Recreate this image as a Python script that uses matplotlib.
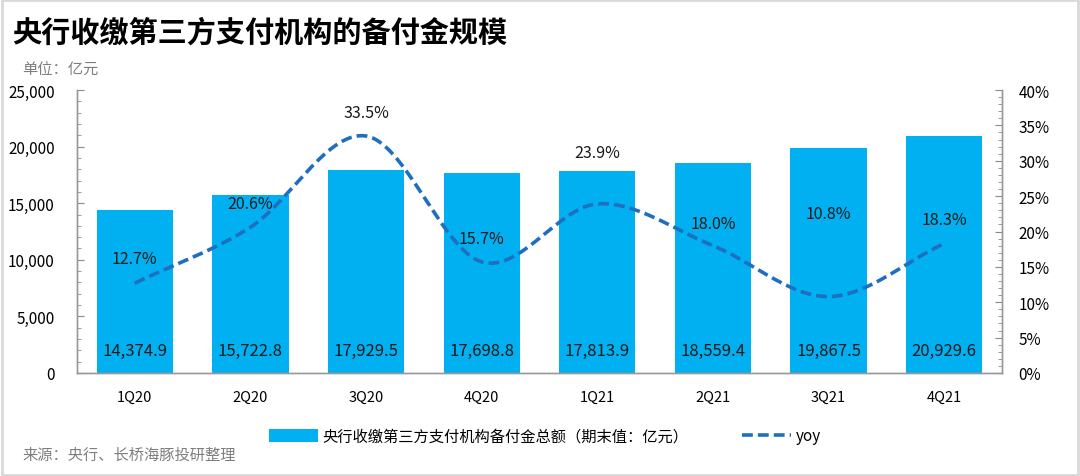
import numpy as np
import matplotlib
matplotlib.use("Agg")
import matplotlib.pyplot as plt
from matplotlib.lines import Line2D
from matplotlib.patches import Patch, Rectangle
from matplotlib.ticker import MultipleLocator, FuncFormatter

plt.rcParams['font.family'] = ['Noto Sans CJK SC', 'DejaVu Sans']

categories = ['1Q20', '2Q20', '3Q20', '4Q20', '1Q21', '2Q21', '3Q21', '4Q21']
reserve = [14374.9, 15722.8, 17929.5, 17698.8, 17813.9, 18559.4, 19867.5, 20929.6]
yoy = [12.7, 20.6, 33.5, 15.7, 23.9, 18.0, 10.8, 18.3]
bar_label = '央行收缴第三方支付机构备付金总额（期末值：亿元）'
line_label = 'yoy'
title = '央行收缴第三方支付机构的备付金规模'
unit = '单位：亿元'
source = '来源：央行、长桥海豚投研整理'

# layout: vertical offsets (points) of yoy labels above their points
yoy_offsets = [18, 17, 17, 17, 37, 16, 60, 17]

BAR = '#00B0F0'
LINE = '#1F6FC0'
GRAY = '#888888'

fig = plt.figure(figsize=(10.8, 4.77), dpi=100)
ax = fig.add_axes([77/1080, 1-374/477, (1002-77)/1080, (374-91)/477])
ax2 = ax.twinx()

x = np.arange(len(categories))
ax.bar(x, reserve, width=0.66, color=BAR, zorder=2)
ax.set_xlim(-0.5, len(categories)-0.5)
ax.set_ylim(0, 25000)
ax.yaxis.set_major_locator(MultipleLocator(5000))
ax.yaxis.set_minor_locator(MultipleLocator(1000))
ax.yaxis.set_major_formatter(FuncFormatter(lambda v, p: f'{int(v):,}'))
ax.set_xticks(x)
ax.set_xticklabels(categories)
ax.tick_params(axis='x', length=0, pad=12, labelsize=10.5)
ax.tick_params(axis='y', which='both', direction='in', labelsize=11, pad=16, color=GRAY)
ax.tick_params(axis='y', which='major', length=5)
ax.tick_params(axis='y', which='minor', length=3)

for xi, v in zip(x, reserve):
    ax.text(xi, 2000, f'{v:,.1f}', ha='center', va='center', fontsize=12, color='#1a1a1a', zorder=3)

# smooth curve (Catmull-Rom through the data points, like Excel smoothing)
def catmull(xs, ys, n=30):
    xs = np.asarray(xs, float); ys = np.asarray(ys, float)
    px = np.concatenate([[2*xs[0]-xs[1]], xs, [2*xs[-1]-xs[-2]]])
    py = np.concatenate([[2*ys[0]-ys[1]], ys, [2*ys[-1]-ys[-2]]])
    ox, oy = [], []
    for i in range(1, len(px)-2):
        t = np.linspace(0, 1, n, endpoint=(i == len(px)-3))
        for arr, out in ((px, ox), (py, oy)):
            p0, p1, p2, p3 = arr[i-1], arr[i], arr[i+1], arr[i+2]
            out.extend(0.5*((2*p1) + (-p0+p2)*t + (2*p0-5*p1+4*p2-p3)*t**2 + (-p0+3*p1-3*p2+p3)*t**3))
    return np.array(ox), np.array(oy)

sx, sy = catmull(x, yoy)
ax2.plot(sx, sy, color=LINE, lw=2.6, ls=(0, (3, 1.4)), zorder=4)
ax2.set_ylim(0, 40)
ax2.yaxis.set_major_locator(MultipleLocator(5))
ax2.yaxis.set_minor_locator(MultipleLocator(1))
ax2.yaxis.set_major_formatter(FuncFormatter(lambda v, p: f'{int(v)}%'))
ax2.tick_params(axis='y', which='both', direction='in', labelsize=11, pad=12, color=GRAY)
ax2.tick_params(axis='y', which='major', length=5)
ax2.tick_params(axis='y', which='minor', length=3)
for xi, v, off in zip(x, yoy, yoy_offsets):
    ax2.annotate(f'{v:.1f}%', (xi, v), xytext=(0, off), textcoords='offset points',
                 ha='center', va='center', fontsize=11.5, color='#1a1a1a')

for a in (ax, ax2):
    a.spines['top'].set_visible(False)
    for s in ('left', 'right', 'bottom'):
        a.spines[s].set_color('#999999')
        a.spines[s].set_linewidth(1.0)

# texts
fig.text(12/1080, 1-33/477, title, fontsize=21, fontweight='bold', va='center', ha='left', color='black')
fig.text(22/1080, 1-70/477, unit, fontsize=11, va='center', ha='left', color='#7f7f7f')
fig.text(22/1080, 1-455/477, source, fontsize=11, va='center', ha='left', color='#7f7f7f')

handles = [Patch(facecolor=BAR, edgecolor='none'),
           Line2D([0], [0], color=LINE, lw=2.6, ls=(0, (3, 1.4)))]
fig.legend(handles, [bar_label, line_label], loc='center', bbox_to_anchor=(545/1080, 1-437/477),
           ncol=2, frameon=False, fontsize=11, handlelength=3.2, handleheight=0.9,
           columnspacing=3.5, handletextpad=0.3)

# light border
fig.patches.append(Rectangle((0.002, 0.003), 0.996, 0.994, transform=fig.transFigure,
                             fill=False, edgecolor='#d9d9d9', lw=2))

fig.savefig('out.png', dpi=100)
